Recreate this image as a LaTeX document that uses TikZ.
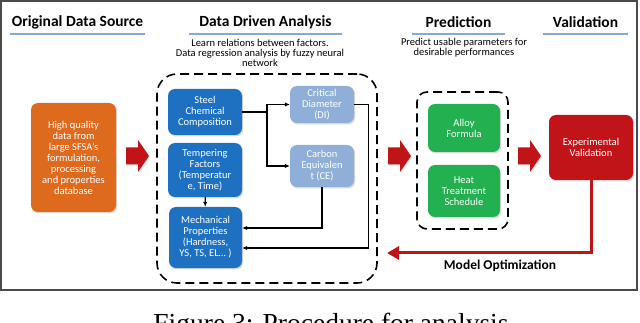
\documentclass[tikz,border=0pt]{standalone}
\usepackage{fontspec}
\setmainfont{Carlito}
\newfontfamily\capfont{Liberation Serif}
\usepackage{tikz}
\usetikzlibrary{positioning,calc,arrows.meta,shadows}
\definecolor{srcorange}{HTML}{DE6A1E}
\definecolor{anablue}{HTML}{1E70C0}
\definecolor{derivblue}{HTML}{8FAFD8}
\definecolor{predgreen}{HTML}{22B050}
\definecolor{valred}{HTML}{C01418}
\definecolor{ulblue}{HTML}{86A8D8}
\definecolor{framegray}{HTML}{4A4A4A}

\begin{document}
\begin{tikzpicture}[x=1pt, y=-1pt,
  box/.style={rounded corners=7pt, align=center, text=white, inner sep=1pt,
    font=\fontsize{10.5}{11}\selectfont,
    drop shadow={shadow xshift=1.2pt, shadow yshift=-1.4pt, opacity=0.3}},
  heading/.style={minimum width=#1, minimum height=24pt, inner sep=0pt,
    font=\fontsize{15.5}{18}\selectfont\bfseries},
  uline/.style={ulblue, line width=1.5pt},
  sub/.style={align=center, inner sep=0pt, font=\fontsize{10.5}{10}\selectfont},
  group/.style={draw, line width=1.6pt, dash pattern=on 9pt off 5pt, rounded corners=#1},
  bigarrow/.style={fill=valred, drop shadow={shadow xshift=1pt, shadow yshift=-1pt, opacity=0.25}},
  conn/.style={line width=1.2pt, -{Latex[length=5pt,width=4.5pt]}},
  optarr/.style={draw=valred, line width=3pt, -{Triangle[length=12pt,width=13pt]}}
]
  \useasboundingbox (0,0) rectangle (640,323);
  \clip (0,0) rectangle (640,323);
  \draw[framegray, line width=1.5pt] (1,1) rectangle (637,290);

  % Column headings with underlines
  \node[heading=135pt] (hsrc) at (77.5,22) {Original Data Source};
  \node[heading=153pt] (hana) at (265.5,22) {Data Driven Analysis};
  \node[heading=93pt] (hpred) at (458.5,22) {Prediction};
  \node[heading=85pt] (hval) at (585.5,22) {Validation};
  \foreach \h in {hsrc,hana,hpred,hval}
    \draw[uline] (\h.south west) -- (\h.south east);

  \node[sub] (sana) at (260,53) {Learn relations between factors.\\Data regression analysis by fuzzy neural\\network};
  \node[sub] (spred) at (464,48) {Predict usable parameters for\\desirable performances};

  % Data source
  \node[box, fill=srcorange, minimum width=85pt, minimum height=109pt] (src) at (73.5,157.5)
    {High quality\\data from\\large SFSA’s\\formulation,\\processing\\and properties\\database};

  % Red block arrows between the stages
  \foreach \ax in {126,388,518}
    \path[bigarrow] (\ax,147.5) -- ++(12,0) -- ++(0,-7.5) -- ++(11,16) -- ++(-11,16)
      -- ++(0,-7.5) -- ++(-12,0) -- cycle;

  % Data driven analysis
  \node[group=20pt, minimum width=220pt, minimum height=209pt] (ana) at (267,178.5) {};
  \node[box, fill=anablue, minimum width=74pt, minimum height=46pt] (steel) at (205,112)
    {Steel\\Chemical\\Composition};
  \node[box, fill=anablue, minimum width=74pt, minimum height=54pt] (temper) at (205,170)
    {Tempering\\Factors\\(Temperatur\\e, Time)};
  \node[box, fill=anablue, minimum width=73pt, minimum height=61pt] (mech) at (205.5,237.5)
    {Mechanical\\Properties\\(Hardness,\\YS, TS, EL… )};
  \node[box, fill=derivblue, minimum width=64pt, minimum height=37pt] (crit) at (322,104.5)
    {Critical\\Diameter\\(DI)};
  \node[box, fill=derivblue, minimum width=64pt, minimum height=42pt] (carb) at (322,166)
    {Carbon\\Equivalen\\t (CE)};
  \coordinate (split) at (267,112);
  \draw[line width=1.2pt] (steel.east) -- (split);
  \draw[conn] (split) |- (crit);
  \draw[conn] (split) |- (carb);
  \draw[conn] (temper) -- (mech);
  \draw[conn] (carb.south) |- ($(mech.east)+(0,-9.5)$);
  \draw[conn] (crit.east) -- ++(14,0) |- ($(mech.east)+(0,10.5)$);

  % Prediction
  \node[group=10pt, minimum width=91pt, minimum height=137pt] (pred) at (462.5,160.5) {};
  \node[box, fill=predgreen, minimum width=72pt, minimum height=48pt] (alloy) at (464,128)
    {Alloy\\Formula};
  \node[box, fill=predgreen, minimum width=72pt, minimum height=52pt] (heat) at (464,191)
    {Heat\\Treatment\\Schedule};

  % Validation and feedback
  \node[box, fill=valred, minimum width=84pt, minimum height=65pt] (valid) at (591,147.5)
    {Experimental\\Validation};
  \coordinate (optend) at (387,253);
  \draw[optarr] (valid.south) |- (optend);
  \node[font=\fontsize{13.5}{15}\selectfont\bfseries] (optlbl) at (500,266) {Model Optimization};

  \node[anchor=base, font=\capfont\fontsize{27.5}{30}\selectfont] (capt) at (331,332)
    {Figure 3: Procedure for analysis};
\end{tikzpicture}
\end{document}
